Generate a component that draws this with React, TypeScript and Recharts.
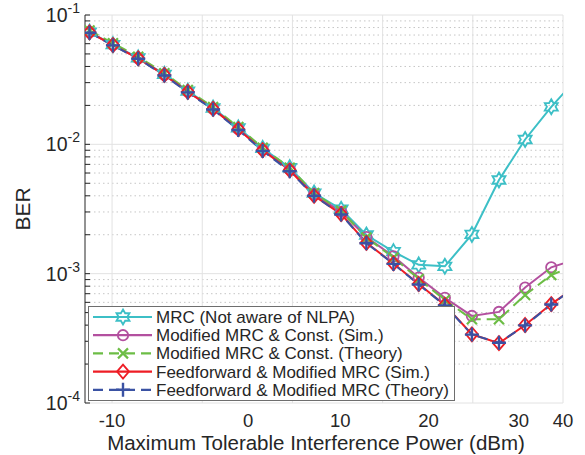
import { LineChart, Line, XAxis, YAxis, CartesianGrid } from 'recharts';

// x positions of the simulated points (dBm) and BER
const xValues = [-12.5, -9.9, -7.1, -4.2, -1.6, 1.2, 4.0, 6.7, 9.7, 12.4, 15.4, 18.2, 21.2, 24.0, 26.9, 29.9, 32.9, 35.8, 38.7, 41.6];

const mrcNotAware = [0.0738, 0.059, 0.0466, 0.0348, 0.0258, 0.0191, 0.0134, 0.0093, 0.0066, 0.0042, 0.00315, 0.00199, 0.00148, 0.00117, 0.00114, 0.00201, 0.0053, 0.0109, 0.0195, 0.0326];
const modMrcSim = [0.0735, 0.0586, 0.0462, 0.0344, 0.0255, 0.0188, 0.0131, 0.0091, 0.0064, 0.0041, 0.00301, 0.00192, 0.00136, 0.000934, 0.00065, 0.000471, 0.000506, 0.000781, 0.00112, 0.0013];
const modMrcTheory = [0.076, 0.0605, 0.0476, 0.0355, 0.0263, 0.0194, 0.0136, 0.0094, 0.0066, 0.0042, 0.00306, 0.0019, 0.00133, 0.00091, 0.000625, 0.000444, 0.000444, 0.000684, 0.000977, 0.00118];
const ffSim = [0.0735, 0.0586, 0.0462, 0.0344, 0.0255, 0.0188, 0.0131, 0.009, 0.0063, 0.004, 0.00289, 0.00173, 0.0012, 0.000832, 0.000573, 0.00034, 0.00029, 0.000401, 0.000582, 0.000813];
const ffTheory = [0.073, 0.0582, 0.0459, 0.0341, 0.0252, 0.0186, 0.0129, 0.0089, 0.0062, 0.004, 0.00287, 0.00172, 0.00119, 0.000825, 0.000568, 0.000338, 0.000292, 0.000398, 0.000578, 0.00081];

const seriesNames = [
  'MRC (Not aware of NLPA)',
  'Modified MRC & Const. (Sim.)',
  'Modified MRC & Const. (Theory)',
  'Feedforward & Modified MRC (Sim.)',
  'Feedforward & Modified MRC (Theory)',
];

const xTicks = [-10, 0, 10, 20, 30, 40];
const xTickLabels = ['-10', '0', '10', '20', '30', '40'];
// the tick labels in the figure sit off their tick marks
const xLabelSpots = [-10, 5.1, 15.3, 25.1, 35.1, 40];
const yDecades = [1e-4, 1e-3, 1e-2, 1e-1];
const yExponents = ['-4', '-3', '-2', '-1'];

const yMinor = yDecades.slice(0, -1).flatMap((d) => [2, 3, 4, 5, 6, 7, 8, 9].map((k) => +(k * d).toPrecision(3)));
const yAllTicks = [...yDecades, ...yMinor].sort((a, b) => a - b);

const data = xValues.map((x, i) => ({
  x,
  mrc: mrcNotAware[i],
  modSim: modMrcSim[i],
  modTheory: modMrcTheory[i],
  ffSim: ffSim[i],
  ffTheory: ffTheory[i],
}));

const INK = '#262626';
const FONT = '"Liberation Sans", Arial, Helvetica, sans-serif';

const series = [
  { key: 'mrc', color: '#3cbfc6', dash: undefined, shape: 'hexagram' },
  { key: 'modSim', color: '#b3509f', dash: undefined, shape: 'circle' },
  { key: 'modTheory', color: '#6cbd45', dash: '10 6', shape: 'x' },
  { key: 'ffSim', color: '#ee1d25', dash: undefined, shape: 'diamond' },
  { key: 'ffTheory', color: '#3a52a3', dash: '10 6', shape: 'plus' },
];

function Marker({ shape, cx, cy, color }: { shape: string; cx: number; cy: number; color: string }) {
  if (cx == null || cy == null || isNaN(cx) || isNaN(cy)) return <g />;
  const common = { fill: 'none', stroke: color, strokeWidth: 1.8 };
  if (shape === 'hexagram') {
    const R = 7.5;
    const r = R / Math.sqrt(3);
    const pts = Array.from({ length: 12 }, (_, k) => {
      const a = ((k * 30 - 90) * Math.PI) / 180;
      const rad = k % 2 === 0 ? R : r;
      return `${cx + rad * Math.cos(a)},${cy + rad * Math.sin(a)}`;
    }).join(' ');
    return <polygon points={pts} {...common} />;
  }
  if (shape === 'circle') return <circle cx={cx} cy={cy} r={5.2} {...common} />;
  if (shape === 'x') return <path d={`M${cx - 5} ${cy - 5}L${cx + 5} ${cy + 5}M${cx + 5} ${cy - 5}L${cx - 5} ${cy + 5}`} {...common} strokeWidth={2.2} />;
  if (shape === 'diamond') return <polygon points={`${cx},${cy - 7} ${cx + 6},${cy} ${cx},${cy + 7} ${cx - 6},${cy}`} {...common} />;
  return <path d={`M${cx - 7} ${cy}L${cx + 7} ${cy}M${cx} ${cy - 7}L${cx} ${cy + 7}`} {...common} strokeWidth={2.4} />;
}

const YTick = ({ x, y, payload }: any) => {
  const i = yDecades.findIndex((d) => Math.abs(d - payload.value) / d < 1e-6);
  if (i < 0) return <g />;
  return (
    <text x={x} y={y + 7} textAnchor="end" fontSize={19.5} fill={INK}>
      10<tspan dy={-9} fontSize={14}>{yExponents[i]}</tspan>
    </text>
  );
};

function ChartLegend() {
  return (
    <div
      style={{
        position: 'absolute', left: 88, top: 306, width: 367, height: 95,
        border: '1px solid #6e6e6e', background: '#fff', boxSizing: 'border-box',
      }}
    >
      <svg width={365} height={93}>
        {series.map((s, i) => {
          const cy = 10 + i * 18.2;
          return (
            <g key={s.key}>
              <line x1={4} x2={63} y1={cy} y2={cy} stroke={s.color} strokeWidth={2.2} strokeDasharray={s.dash} />
              <Marker shape={s.shape} cx={34} cy={cy} color={s.color} />
              <text x={67} y={cy + 6} fontSize={17} fill={INK}>{seriesNames[i]}</text>
            </g>
          );
        })}
      </svg>
    </div>
  );
}

export default function App() {
  return (
    <div style={{ position: 'absolute', left: 0, top: 0, width: 585, height: 455, background: '#fff', fontFamily: FONT }}>
      <LineChart width={585} height={455} data={data} margin={{ top: 15, right: 22, bottom: 0, left: 0 }}>
        <CartesianGrid xAxisId="x" yAxisId="y" horizontalValues={yMinor} vertical={false} stroke="#c6c6c6" strokeDasharray="1.5 3" />
        <CartesianGrid xAxisId="x" yAxisId="y" horizontalValues={yDecades} verticalValues={xTicks} stroke="#e2e2e2" />
        <XAxis
          xAxisId="x" dataKey="x" type="number" domain={[-13, 40]} allowDataOverflow
          ticks={xTicks} interval={0} height={0} tickSize={-5} tickFormatter={() => ''}
          stroke={INK} axisLine={{ stroke: INK }} tickLine={{ stroke: INK }}
        />
        <XAxis
          xAxisId="xl" dataKey="x" type="number" domain={[-13, 40]} allowDataOverflow
          ticks={xLabelSpots} interval={0} height={52} tickSize={0} tickMargin={10.5}
          tickFormatter={(_v: number, i: number) => xTickLabels[i]}
          axisLine={false} tickLine={false}
          tick={{ fontSize: 18.5, fill: INK }}
          label={{ value: 'Maximum Tolerable Interference Power (dBm)', position: 'insideBottom', offset: 5, dx: -8, fontSize: 20.5, fill: INK }}
        />
        <XAxis
          xAxisId="xt" orientation="top" dataKey="x" type="number" domain={[-13, 40]} allowDataOverflow
          ticks={xTicks} interval={0} height={0} tickSize={-5} tickFormatter={() => ''}
          axisLine={{ stroke: INK }} tickLine={{ stroke: INK }}
        />
        <YAxis
          yAxisId="y" scale="log" type="number" domain={[1e-4, 1e-1]} allowDataOverflow
          ticks={yAllTicks} interval={0} width={85} tickSize={-5} tickMargin={10}
          tick={<YTick />} axisLine={{ stroke: INK }} tickLine={{ stroke: INK }}
          label={{ value: 'BER', angle: -90, position: 'insideLeft', offset: 23, fontSize: 21, fill: INK, style: { textAnchor: 'middle' } }}
        />
        <YAxis
          yAxisId="yr" orientation="right" scale="log" type="number" domain={[1e-4, 1e-1]} allowDataOverflow
          ticks={yAllTicks} interval={0} width={0} tickSize={-5} tickFormatter={() => ''}
          axisLine={{ stroke: INK }} tickLine={{ stroke: INK }}
        />
        {series.map((s) => (
          <Line
            key={s.key}
            xAxisId="x"
            yAxisId="y"
            dataKey={s.key}
            type="linear"
            stroke={s.color}
            strokeWidth={2}
            strokeDasharray={s.dash}
            isAnimationActive={false}
            dot={(p: any) => <Marker key={`${s.key}-${p.index}`} shape={s.shape} cx={p.cx} cy={p.cy} color={s.color} />}
            activeDot={false}
          />
        ))}
      </LineChart>
      <ChartLegend />
    </div>
  );
}
